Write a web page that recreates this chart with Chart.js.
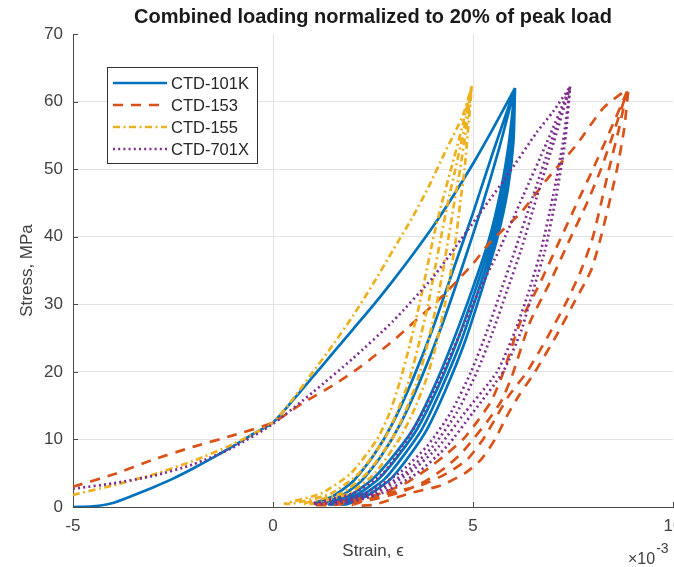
<!doctype html>
<html lang="en">
<head>
<meta charset="utf-8">
<style>
    html, body { margin: 0; padding: 0; background: #fff; overflow: hidden; }
</style>
</head>
<body>
    <div>
        <canvas id="myChart" width="674" height="567"></canvas>
    </div>

    <script src="https://cdn.jsdelivr.net/npm/chart.js"></script>

    <script>
    // strain is given in units of 1e-3, stress in MPa
    const strainTicks = [-5, 0, 5, 10];
    const stressTicks = [0, 10, 20, 30, 40, 50, 60, 70];

    // CTD-101K: first loading, then unload/reload cycles (each listed bottom -> peak)
    const ctd101kLoadStrain = [-5, -4.5, -4, -3.5, -3, -2.5, -2, -1.5, -1, -0.5, 0, 0.5, 1, 1.5, 2, 2.5, 3, 3.5, 4, 4.5, 5, 5.5, 6.05];
    const ctd101kLoadStress = [0, 0.1, 0.6, 1.7, 2.9, 4.2, 5.7, 7.3, 9.0, 10.8, 12.5, 15.8, 19.3, 22.8, 26.3, 29.8, 33.5, 37.4, 41.5, 46.0, 50.8, 56.0, 62.0];
    const ctd101kCycleStrain = [
        [1.0, 1.5, 2.0, 2.5, 3.0, 3.5, 4.0, 4.5, 5.0, 5.5, 6.05],
        [1.2, 1.7, 2.2, 2.7, 3.2, 3.7, 4.2, 4.7, 5.2, 5.65, 6.05],
        [1.4, 2.0, 2.5, 3.0, 3.5, 4.0, 4.5, 5.0, 5.4, 5.7, 5.9, 6.05],
        [1.55, 2.15, 2.65, 3.12, 3.6, 4.1, 4.6, 5.08, 5.47, 5.76, 5.94, 6.05],
        [1.7, 2.3, 2.8, 3.25, 3.72, 4.2, 4.7, 5.16, 5.54, 5.82, 5.98, 6.05],
        [1.85, 2.45, 2.95, 3.4, 3.85, 4.32, 4.8, 5.24, 5.6, 5.87, 6.01, 6.05]
    ];
    const ctd101kCycleStress = [
        [0.5, 1.6, 3.8, 7.5, 12.5, 19, 26.5, 35, 43.5, 52.5, 62],
        [0.5, 1.6, 3.8, 7.5, 12.5, 19, 26.5, 35, 44, 53, 62],
        [0.4, 2.0, 4.2, 7.5, 11.5, 17.4, 24.5, 32.5, 39.6, 47, 54, 62],
        [0.4, 2.0, 4.2, 7.5, 11.5, 17.4, 24.5, 32.5, 39.6, 47, 54, 62],
        [0.4, 2.0, 4.2, 7.5, 11.5, 17.4, 24.5, 32.5, 39.6, 47, 54, 62],
        [0.4, 2.0, 4.2, 7.5, 11.5, 17.4, 24.5, 32.5, 39.6, 47, 54, 62]
    ];

    // CTD-153
    const ctd153LoadStrain = [-5, -4, -3, -2, -1, 0, 0.75, 1.5, 2.2, 3.0, 3.4, 4.2, 5.0, 5.4, 6.2, 6.85, 7.6, 8.25, 8.85];
    const ctd153LoadStress = [3.0, 4.8, 7.0, 8.9, 10.6, 12.5, 15.4, 18.0, 20.8, 24.6, 26.7, 31.0, 36.0, 39.0, 43.6, 48.5, 53.7, 59.0, 61.8];
    const ctd153CycleStrain = [
        [1.0, 2.0, 2.8, 3.4, 3.9, 4.35, 4.75, 5.1, 5.45, 5.72, 6.18, 6.68, 7.18, 7.6, 8.0, 8.45, 8.85],
        [1.5, 2.4, 3.2, 3.8, 4.3, 4.7, 5.0, 5.35, 5.7, 5.97, 6.42, 6.92, 7.42, 7.85, 8.2, 8.55, 8.85],
        [2.0, 2.85, 3.7, 4.35, 4.85, 5.25, 5.6, 5.9, 6.35, 6.85, 7.35, 7.7, 8.0, 8.4, 8.65, 8.85],
        [2.5, 3.4, 4.2, 4.8, 5.2, 5.55, 5.85, 6.15, 6.55, 7.05, 7.55, 7.95, 8.2, 8.6, 8.78, 8.88]
    ];
    const ctd153CycleStress = [
        [0.3, 1.0, 2.2, 3.8, 5.8, 7.9, 10.0, 12.6, 15.6, 19.3, 27.3, 33.2, 39.6, 45.0, 50.0, 56.0, 61.5],
        [0.3, 1.0, 2.2, 3.8, 5.8, 7.9, 10.0, 12.6, 15.6, 19.3, 27.3, 33.2, 39.6, 45.0, 50.0, 56.0, 61.5],
        [0.3, 2.0, 3.2, 5.0, 7.0, 10.0, 13.5, 16.5, 20.0, 25.0, 30.5, 35.0, 40.0, 50.0, 56.0, 61.5],
        [0.3, 2.0, 3.2, 5.0, 7.0, 10.0, 13.5, 16.5, 20.0, 25.0, 30.5, 35.0, 40.0, 50.0, 56.0, 61.5]
    ];

    // CTD-155
    const ctd155LoadStrain = [-5, -4, -3, -2, -1, 0, 0.5, 1, 1.5, 2, 2.5, 3, 3.5, 3.9, 4.3, 4.75, 4.97];
    const ctd155LoadStress = [1.8, 3.2, 4.8, 6.8, 9.3, 12.5, 16.0, 20.0, 24.0, 28.3, 33.0, 38.0, 43.0, 47.5, 52.5, 58.0, 62.3];
    const ctd155CycleStrain = [
        [0.3, 1.2, 1.95, 2.6, 2.92, 3.18, 3.42, 3.66, 3.84, 4.0, 4.22, 4.45, 4.72, 4.97],
        [0.5, 1.45, 2.15, 2.78, 3.1, 3.4, 3.64, 3.88, 4.04, 4.19, 4.37, 4.56, 4.78, 4.97],
        [0.75, 1.7, 2.35, 2.97, 3.3, 3.61, 3.86, 4.09, 4.25, 4.38, 4.53, 4.68, 4.83, 4.97],
        [1.0, 1.9, 2.55, 3.15, 3.5, 3.82, 4.08, 4.3, 4.45, 4.57, 4.68, 4.79, 4.88, 4.97]
    ];
    const ctd155CycleStress = [
        [0.5, 2, 5, 10, 14, 18.7, 24, 30, 35, 39.6, 45, 50, 56, 62.3],
        [0.5, 2, 5, 10, 14, 18.7, 24, 30, 35, 39.6, 45, 50, 56, 62.3],
        [0.5, 2, 5, 10, 14, 18.7, 24, 30, 35, 39.6, 45, 50, 56, 62.3],
        [0.5, 2, 5, 10, 14, 18.7, 24, 30, 35, 39.6, 45, 50, 56, 62.3]
    ];

    // CTD-701X
    const ctd701xLoadStrain = [-5, -4, -3, -2, -1, 0, 1, 2, 3, 4, 4.7, 5.3, 5.85, 6.6, 7.0, 7.43];
    const ctd701xLoadStress = [2.7, 3.5, 4.6, 6.3, 8.8, 12.3, 17.0, 22.0, 27.5, 34.0, 39.6, 44.5, 49.0, 55.5, 58.5, 62.2];
    const ctd701xCycleStrain = [
        [1.0, 2.0, 2.75, 3.25, 3.75, 4.25, 4.7, 5.15, 5.65, 6.25, 6.85, 7.43],
        [1.3, 2.3, 3.15, 3.85, 4.45, 4.95, 5.35, 5.7, 6.05, 6.5, 6.95, 7.43],
        [1.45, 2.45, 3.3, 4.0, 4.6, 5.1, 5.5, 5.85, 6.2, 6.6, 7.02, 7.43],
        [1.6, 2.55, 3.4, 4.15, 4.8, 5.6, 6.05, 6.4, 6.7, 7.0, 7.25, 7.43],
        [1.8, 2.7, 3.6, 4.35, 5.0, 5.75, 6.2, 6.5, 6.8, 7.08, 7.3, 7.43]
    ];
    const ctd701xCycleStress = [
        [0.5, 2, 5, 9, 14, 20, 26, 32, 38, 46, 54, 62.2],
        [0.5, 2, 5, 9, 14, 20, 26, 32, 38, 46, 54, 62.2],
        [0.5, 2, 5, 9, 14, 20, 26, 32, 38, 46, 54, 62.2],
        [0.5, 2, 5, 9, 14, 20, 26, 32, 38, 46, 54, 62.2],
        [0.5, 2, 5, 9, 14, 20, 26, 32, 38, 46, 54, 62.2]
    ];

    const FONT = '"Liberation Sans", Arial, Helvetica, sans-serif';
    const TEXT_COLOR = '#404040';
    const AXIS_COLOR = '#4a4a4a';

    // join first loading and the cycles into one continuous path,
    // every other cycle is walked from the peak back down
    function buildPath(loadX, loadY, cycX, cycY) {
        const pts = loadX.map((x, i) => ({ x: x, y: loadY[i] }));
        cycX.forEach((xs, k) => {
            const seg = xs.map((x, i) => ({ x: x, y: cycY[k][i] }));
            if (k % 2 === 0) seg.reverse();
            pts.push(...seg);
        });
        return pts;
    }

    // draws the boxed legend in the upper left of the plot
    const boxLegend = {
        id: 'boxLegend',
        afterDraw(chart) {
            const c = chart.ctx;
            const left = chart.chartArea.left + 34, top = chart.chartArea.top + 33;
            const w = 150, h = 96;
            c.save();
            c.fillStyle = '#fff';
            c.fillRect(left, top, w, h);
            c.strokeStyle = '#303030';
            c.lineWidth = 1;
            c.strokeRect(left + 0.5, top + 0.5, w, h);
            chart.data.datasets.forEach((ds, i) => {
                const y = top + 16 + i * 22;
                c.strokeStyle = ds.borderColor;
                c.lineWidth = ds.borderWidth;
                c.setLineDash(ds.borderDash || []);
                c.beginPath();
                c.moveTo(left + 6, y);
                c.lineTo(left + 60, y);
                c.stroke();
                c.setLineDash([]);
                c.fillStyle = '#262626';
                c.font = '16.5px ' + FONT;
                c.textBaseline = 'middle';
                c.fillText(ds.label, left + 64, y + 1);
            });
            c.restore();
        }
    };

    // inward tick marks and the x10^-3 exponent label
    const axisExtras = {
        id: 'axisExtras',
        afterDraw(chart) {
            const c = chart.ctx;
            const { left, bottom } = chart.chartArea;
            const xs = chart.scales.x, ys = chart.scales.y;
            c.save();
            c.strokeStyle = AXIS_COLOR;
            c.lineWidth = 1;
            c.beginPath();
            strainTicks.forEach(v => {
                const px = Math.round(xs.getPixelForValue(v)) + 0.5;
                c.moveTo(px, bottom);
                c.lineTo(px, bottom - 5);
            });
            stressTicks.forEach(v => {
                const py = Math.round(ys.getPixelForValue(v)) + 0.5;
                c.moveTo(left, py);
                c.lineTo(left + 5, py);
            });
            c.stroke();
            c.fillStyle = TEXT_COLOR;
            c.textBaseline = 'alphabetic';
            c.font = '16px ' + FONT;
            const base = '\u00d710';
            const bx = 628;
            c.fillText(base, bx, 564);
            const bw = c.measureText(base).width;
            c.font = '14px ' + FONT;
            c.fillText('-3', bx + bw + 1, 553);
            c.restore();
        }
    };

    const ctx = document.getElementById('myChart');

    new Chart(ctx, {
        type: 'scatter',
        data: {
            datasets: [
                {
                    label: 'CTD-101K',
                    data: buildPath(ctd101kLoadStrain, ctd101kLoadStress, ctd101kCycleStrain, ctd101kCycleStress),
                    borderColor: '#0072BD',
                    borderWidth: 2.7,
                    borderDash: [],
                    order: 4
                },
                {
                    label: 'CTD-153',
                    data: buildPath(ctd153LoadStrain, ctd153LoadStress, ctd153CycleStrain, ctd153CycleStress),
                    borderColor: '#D95319',
                    borderWidth: 2.7,
                    borderDash: [10, 8],
                    order: 3
                },
                {
                    label: 'CTD-155',
                    data: buildPath(ctd155LoadStrain, ctd155LoadStress, ctd155CycleStrain, ctd155CycleStress),
                    borderColor: '#EDB120',
                    borderWidth: 2.7,
                    borderDash: [7, 3.5, 2, 3.5],
                    order: 2
                },
                {
                    label: 'CTD-701X',
                    data: buildPath(ctd701xLoadStrain, ctd701xLoadStress, ctd701xCycleStrain, ctd701xCycleStress),
                    borderColor: '#7E2F8E',
                    borderWidth: 2.7,
                    borderDash: [2, 3.2],
                    order: 1
                }
            ]
        },
        options: {
            responsive: false,
            animation: false,
            devicePixelRatio: 1,
            showLine: true,
            elements: {
                point: { radius: 0, hoverRadius: 0 },
                line: { tension: 0.2, fill: false, borderCapStyle: 'butt' }
            },
            layout: { padding: { left: 0, right: 1, top: 0, bottom: 0 } },
            scales: {
                x: {
                    type: 'linear',
                    min: -5,
                    max: 10,
                    afterBuildTicks: s => { s.ticks = strainTicks.map(v => ({ value: v })); },
                    afterFit: s => { s.height = 60; s.paddingLeft = 0; s.paddingRight = 0; },
                    grid: {
                        color: c => (c.tick && c.tick.value === 10) ? 'rgba(0,0,0,0)' : '#e3e3e3',
                        drawTicks: false
                    },
                    border: { display: true, color: AXIS_COLOR, width: 1 },
                    ticks: { color: TEXT_COLOR, font: { family: FONT, size: 17 }, padding: 9, maxRotation: 0 },
                    title: {
                        display: true,
                        text: 'Strain, \u03f5',
                        color: TEXT_COLOR,
                        font: { family: FONT, size: 17 },
                        padding: { top: 0, bottom: 5 }
                    }
                },
                y: {
                    type: 'linear',
                    min: 0,
                    max: 70,
                    afterBuildTicks: s => { s.ticks = stressTicks.map(v => ({ value: v })); },
                    afterFit: s => { s.width = 73; s.paddingTop = 0; s.paddingBottom = 0; },
                    grid: {
                        color: c => (c.tick && c.tick.value === 70) ? 'rgba(0,0,0,0)' : '#e3e3e3',
                        drawTicks: false
                    },
                    border: { display: true, color: AXIS_COLOR, width: 1 },
                    ticks: { color: TEXT_COLOR, font: { family: FONT, size: 17 }, padding: 10 },
                    title: {
                        display: true,
                        text: 'Stress, MPa',
                        color: TEXT_COLOR,
                        font: { family: FONT, size: 17 },
                        padding: { top: 17, bottom: 0 }
                    }
                }
            },
            plugins: {
                legend: { display: false },
                tooltip: { enabled: false },
                title: {
                    display: true,
                    fullSize: false,
                    text: 'Combined loading normalized to 20% of peak load',
                    color: '#1a1a1a',
                    font: { family: FONT, size: 20, weight: 'bold', lineHeight: 1.1 },
                    padding: { top: 6, bottom: 6 }
                }
            }
        },
        plugins: [axisExtras, boxLegend]
    });
    </script>
</body>
</html>
